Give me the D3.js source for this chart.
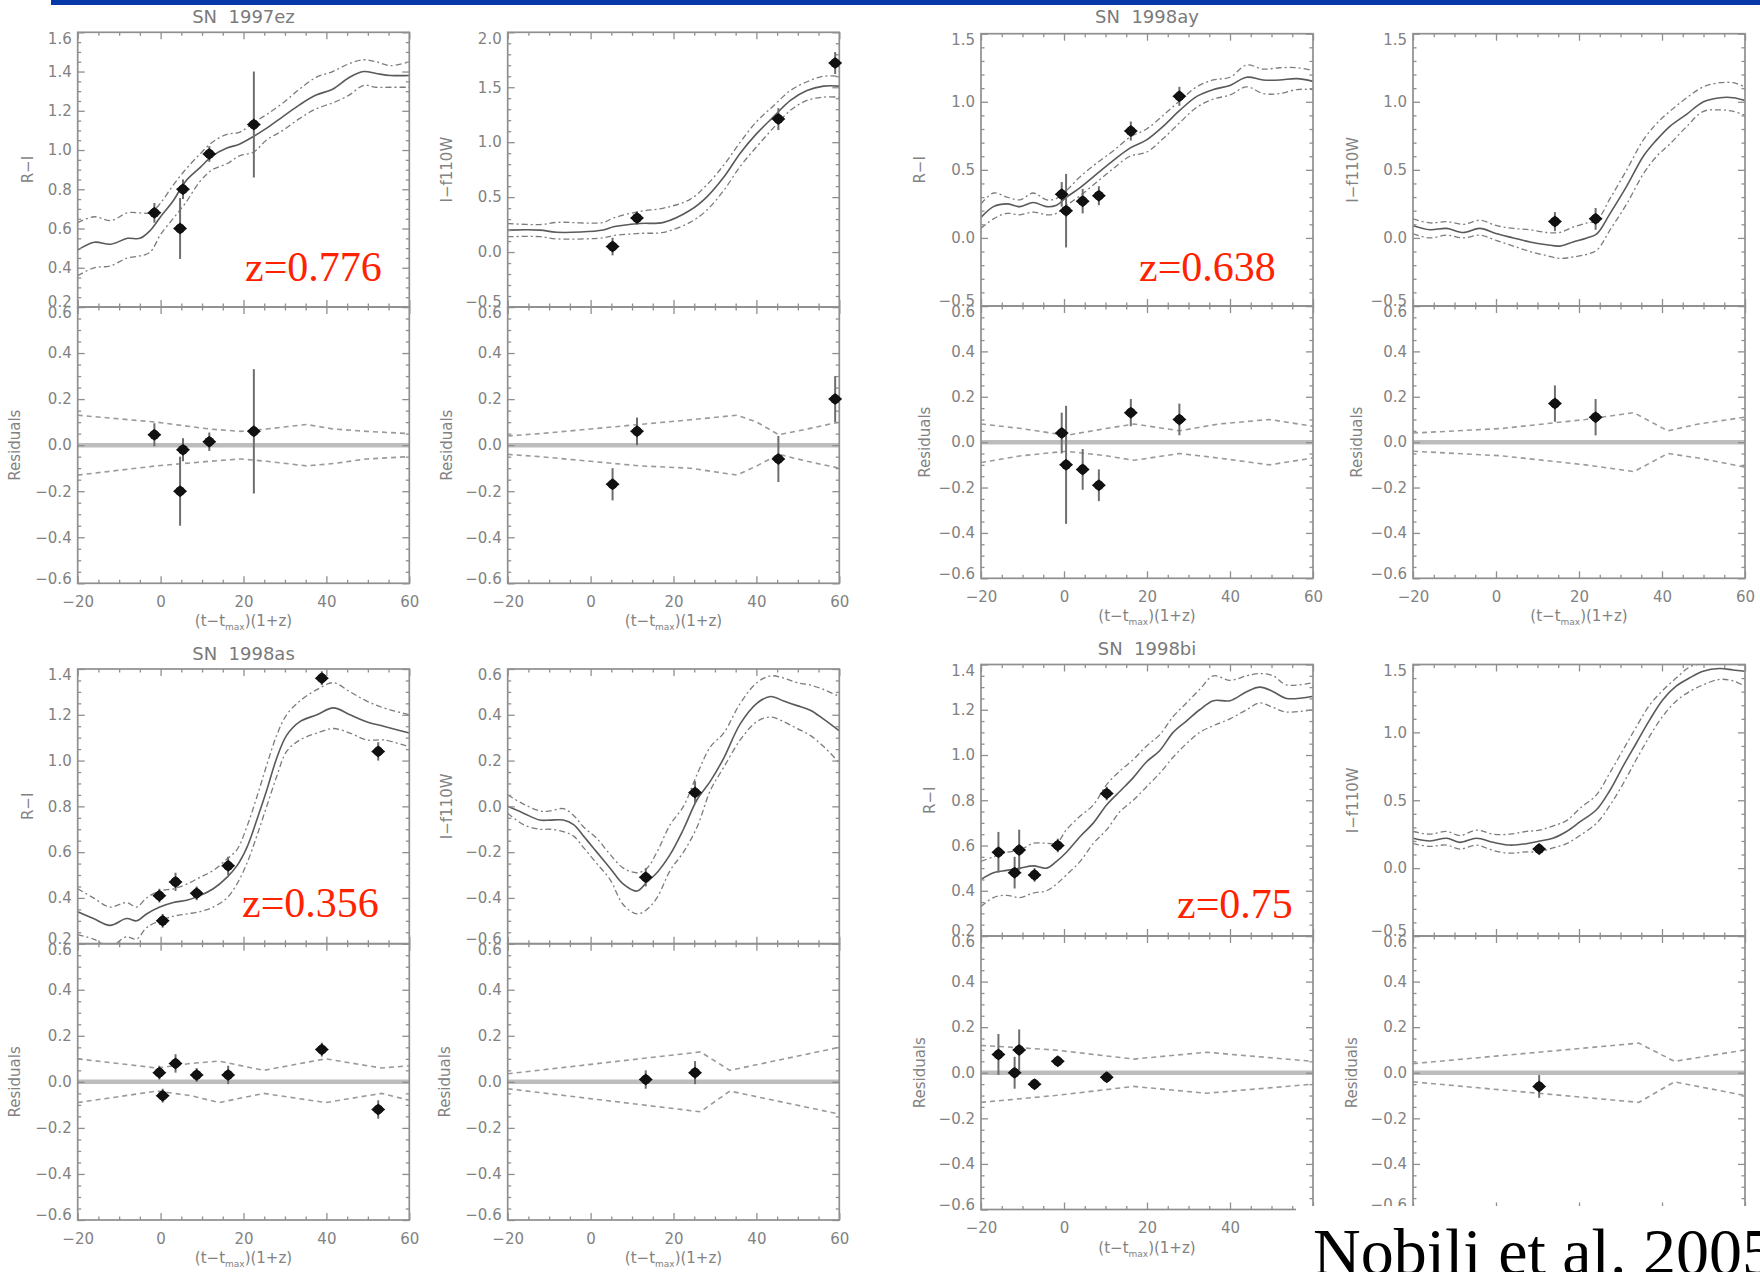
<!DOCTYPE html>
<html>
<head>
<meta charset="utf-8">
<title>SN Ia colour curves and residuals</title>
<script src="https://cdn.jsdelivr.net/npm/d3@7"></script>
<style>
  body { margin: 0; background: #fff; }
  svg { display: block; }
</style>
</head>
<body>
<svg id="fig" width="1760" height="1272"></svg>
<script>
// ---------- shared ticks ----------
const phaseTicks = [-20, 0, 20, 40, 60];
const residualTicks = [-0.6, -0.4, -0.2, 0.0, 0.2, 0.4, 0.6];
const ticksRI_ez = [0.2, 0.4, 0.6, 0.8, 1.0, 1.2, 1.4, 1.6];
const ticksIF_ez = [-0.5, 0.0, 0.5, 1.0, 1.5, 2.0];
const ticksRI_ay = [-0.5, 0.0, 0.5, 1.0, 1.5];
const ticksIF_ay = [-0.5, 0.0, 0.5, 1.0, 1.5];
const ticksRI_as = [0.2, 0.4, 0.6, 0.8, 1.0, 1.2, 1.4];
const ticksIF_as = [-0.6, -0.4, -0.2, 0.0, 0.2, 0.4, 0.6];
const ticksRI_bi = [0.2, 0.4, 0.6, 0.8, 1.0, 1.2, 1.4];
const ticksIF_bi = [-0.5, 0.0, 0.5, 1.0, 1.5];

// ---------- SN 1997ez, R-I ----------
const ezRI_modelX = [-20,-16,-12,-8,-5,-2.5,0,3,6,9.5,12.5,16,19,22.5,25.5,29.5,33.5,37.5,41.5,45.5,49,52,55.5,60];
const ezRI_model  = [0.49,0.53,0.52,0.55,0.55,0.59,0.66,0.74,0.84,0.91,0.97,1.01,1.03,1.07,1.11,1.17,1.23,1.28,1.31,1.37,1.40,1.39,1.38,1.38];
const ezRI_upper  = [0.63,0.66,0.64,0.68,0.68,0.68,0.73,0.82,0.90,0.98,1.04,1.08,1.09,1.14,1.18,1.24,1.31,1.37,1.40,1.44,1.46,1.45,1.43,1.45];
const ezRI_lower  = [0.36,0.40,0.41,0.45,0.46,0.48,0.57,0.65,0.73,0.84,0.90,0.93,0.97,0.99,1.05,1.10,1.16,1.21,1.24,1.28,1.33,1.32,1.32,1.32];
const ezRI_obsX   = [-1.5, 4.7, 5.4, 11.75, 22.5];
const ezRI_obs    = [0.68, 0.60, 0.80, 0.98, 1.13];
const ezRI_obsErr = [0.05, 0.155, 0.05, 0.04, 0.27];
const ezRI_res    = [0.045, -0.20, -0.02, 0.015, 0.06];
const ezRI_resErr = [0.05, 0.15, 0.05, 0.04, 0.27];
const ezRI_bandX  = [-20,-1,11.8,19.2,25.6,35.2,41.7,49.7,60];
const ezRI_bandUp = [0.13,0.10,0.07,0.06,0.07,0.09,0.07,0.06,0.05];
const ezRI_bandLo = [-0.13,-0.09,-0.07,-0.06,-0.07,-0.09,-0.08,-0.06,-0.05];

// ---------- SN 1997ez, I-f110W ----------
const ezIF_modelX = [-20,-12.2,-8.2,3.1,5.5,11.9,17.6,24,28,32.1,36.1,40.1,44.1,48.2,52.2,56.2,60];
const ezIF_model  = [0.20,0.20,0.18,0.20,0.23,0.26,0.27,0.38,0.50,0.68,0.90,1.08,1.23,1.38,1.47,1.51,1.51];
const ezIF_upper  = [0.26,0.25,0.27,0.27,0.31,0.37,0.40,0.48,0.61,0.79,1.00,1.19,1.33,1.47,1.55,1.60,1.60];
const ezIF_lower  = [0.14,0.14,0.12,0.13,0.15,0.17,0.18,0.27,0.38,0.56,0.78,0.96,1.13,1.29,1.38,1.41,1.41];
const ezIF_obsX   = [5.3, 11.2, 45.3, 59.0];
const ezIF_obs    = [0.05, 0.31, 1.21, 1.72];
const ezIF_obsErr = [0.08, 0.06, 0.10, 0.10];
const ezIF_res    = [-0.17, 0.06, -0.06, 0.20];
const ezIF_resErr = [0.07, 0.06, 0.10, 0.10];
const ezIF_bandX  = [-20,-12.2,-0.1,11.9,24,35.3,40.1,45.4,52.2,60];
const ezIF_bandUp = [0.04,0.05,0.07,0.09,0.11,0.13,0.10,0.045,0.07,0.10];
const ezIF_bandLo = [-0.04,-0.05,-0.07,-0.09,-0.10,-0.13,-0.09,-0.04,-0.07,-0.10];

// ---------- SN 1998ay, R-I ----------
const ayRI_modelX = [-20,-17,-13.8,-10.6,-7.4,-4.2,-1.8,0.65,3.9,7.9,11.9,15.9,19.9,23.9,28,32,36,40,44,48,52,56.1,60];
const ayRI_model  = [0.15,0.23,0.25,0.23,0.26,0.23,0.24,0.30,0.37,0.47,0.57,0.66,0.72,0.82,0.94,1.04,1.09,1.12,1.18,1.16,1.16,1.17,1.15];
const ayRI_upper  = [0.25,0.33,0.30,0.28,0.33,0.28,0.29,0.35,0.45,0.55,0.64,0.74,0.80,0.90,1.01,1.11,1.16,1.18,1.27,1.24,1.25,1.25,1.23];
const ayRI_lower  = [0.07,0.14,0.18,0.17,0.19,0.17,0.18,0.24,0.31,0.41,0.51,0.60,0.63,0.73,0.85,0.96,1.02,1.05,1.11,1.06,1.06,1.09,1.09];
const ayRI_obsX   = [-0.55, 0.5, 4.5, 8.4, 16.1, 27.8];
const ayRI_obs    = [0.32, 0.20, 0.27, 0.31, 0.785, 1.04];
const ayRI_obsErr = [0.09, 0.27, 0.09, 0.07, 0.07, 0.07];
const ayRI_res    = [0.04, -0.10, -0.12, -0.19, 0.13, 0.10];
const ayRI_resErr = [0.09, 0.26, 0.09, 0.07, 0.06, 0.07];
const ayRI_bandX  = [-20,-10.3,0.55,10.1,16.9,27.8,37.3,49.5,60];
const ayRI_bandUp = [0.08,0.06,0.03,0.06,0.08,0.05,0.08,0.10,0.07];
const ayRI_bandLo = [-0.09,-0.06,-0.04,-0.06,-0.08,-0.05,-0.07,-0.10,-0.07];

// ---------- SN 1998ay, I-f110W ----------
const ayIF_modelX = [-20,-15.9,-11.9,-7.9,-3.9,0.2,4.2,8.2,12.2,15.4,18.6,21.9,24.3,27.5,31.5,35.5,38.7,41.9,46,50,54,57.2,60];
const ayIF_model  = [0.09,0.06,0.07,0.04,0.07,0.03,0.00,-0.03,-0.05,-0.06,-0.03,0.00,0.03,0.18,0.38,0.60,0.72,0.82,0.91,1.00,1.03,1.03,1.01];
const ayIF_upper  = [0.14,0.11,0.12,0.10,0.13,0.09,0.07,0.06,0.04,0.04,0.08,0.11,0.13,0.29,0.50,0.72,0.84,0.93,1.03,1.11,1.14,1.14,1.11];
const ayIF_lower  = [0.03,0.00,0.02,0.00,0.02,-0.02,-0.06,-0.10,-0.13,-0.15,-0.14,-0.12,-0.09,0.06,0.25,0.47,0.60,0.69,0.82,0.93,0.94,0.93,0.90];
const ayIF_obsX   = [14.2, 24.0];
const ayIF_obs    = [0.12, 0.14];
const ayIF_obsErr = [0.07, 0.08];
const ayIF_res    = [0.17, 0.11];
const ayIF_resErr = [0.08, 0.08];
const ayIF_bandX  = [-20,1.2,21.6,33.2,41.4,48.8,60];
const ayIF_bandUp = [0.04,0.06,0.10,0.13,0.05,0.08,0.11];
const ayIF_bandLo = [-0.04,-0.06,-0.10,-0.13,-0.05,-0.07,-0.11];

// ---------- SN 1998as, R-I ----------
const asRI_modelX = [-20,-16.2,-12.2,-8.2,-5.8,-3.4,-0.2,3.1,6.3,9.5,12.7,16,18.4,20.8,23.2,25.6,28,30.4,33.6,37.7,41.7,45.7,49.7,53.8,60];
const asRI_model  = [0.34,0.31,0.28,0.31,0.30,0.33,0.36,0.38,0.39,0.41,0.44,0.49,0.54,0.62,0.74,0.87,1.01,1.11,1.17,1.20,1.23,1.20,1.17,1.15,1.12];
const asRI_upper  = [0.44,0.40,0.36,0.38,0.36,0.40,0.43,0.44,0.46,0.49,0.52,0.57,0.61,0.71,0.84,0.98,1.11,1.20,1.26,1.31,1.34,1.30,1.26,1.23,1.20];
const asRI_lower  = [0.24,0.22,0.19,0.23,0.22,0.27,0.30,0.32,0.33,0.34,0.36,0.40,0.46,0.55,0.67,0.80,0.93,1.04,1.09,1.12,1.14,1.12,1.09,1.09,1.06];
const asRI_obsX   = [-0.3, 0.5, 3.6, 8.7, 16.3, 38.9, 52.5];
const asRI_obs    = [0.41, 0.30, 0.47, 0.42, 0.54, 1.36, 1.04];
const asRI_obsErr = [0.03, 0.03, 0.04, 0.03, 0.04, 0.03, 0.04];
const asRI_res    = [0.04, -0.06, 0.08, 0.03, 0.03, 0.14, -0.12];
const asRI_resErr = [0.03, 0.03, 0.04, 0.03, 0.04, 0.03, 0.04];
const asRI_bandX  = [-20,-0.8,7.3,14.1,24.9,39.8,53.3,60];
const asRI_bandUp = [0.10,0.06,0.08,0.09,0.05,0.10,0.06,0.07];
const asRI_bandLo = [-0.09,-0.04,-0.06,-0.09,-0.05,-0.09,-0.05,-0.08];

// ---------- SN 1998as, I-f110W ----------
const asIF_modelX = [-20,-16.2,-12.2,-9.8,-6.6,-4.1,-1.7,1.5,4.7,7.9,11.2,13.6,16,19.2,22.4,25.7,28.9,32.1,36.1,40.1,43.4,46.6,49.8,53,56.3,60];
const asIF_model  = [0.00,-0.03,-0.06,-0.06,-0.06,-0.08,-0.13,-0.20,-0.27,-0.34,-0.37,-0.33,-0.29,-0.21,-0.10,0.03,0.11,0.21,0.36,0.45,0.48,0.46,0.44,0.42,0.38,0.33];
const asIF_upper  = [0.05,0.01,-0.02,-0.02,-0.01,-0.04,-0.09,-0.14,-0.21,-0.27,-0.29,-0.27,-0.20,-0.08,0.00,0.14,0.26,0.32,0.45,0.54,0.57,0.56,0.54,0.53,0.51,0.48];
const asIF_lower  = [-0.03,-0.08,-0.10,-0.10,-0.11,-0.13,-0.18,-0.25,-0.32,-0.43,-0.47,-0.45,-0.40,-0.28,-0.20,-0.09,0.07,0.17,0.29,0.37,0.39,0.37,0.34,0.31,0.26,0.19];
const asIF_obsX   = [13.3, 25.2];
const asIF_obs    = [-0.31, 0.06];
const asIF_obsErr = [0.04, 0.05];
const asIF_res    = [0.01, 0.04];
const asIF_resErr = [0.04, 0.05];
const asIF_bandX  = [-20, 26.5, 33.6, 60];
const asIF_bandUp = [0.035, 0.13, 0.05, 0.15];
const asIF_bandLo = [-0.03, -0.13, -0.04, -0.14];

// ---------- SN 1998bi, R-I ----------
const biRI_modelX = [-20,-17,-13.8,-10.6,-7.4,-4.2,-1.8,0.6,3.9,7.1,10.3,13.5,16.7,19.9,23.1,26.3,29.5,32.7,36,40,44,47.2,50.4,53.6,60];
const biRI_model  = [0.45,0.48,0.49,0.50,0.51,0.50,0.53,0.57,0.64,0.70,0.78,0.84,0.90,0.97,1.02,1.10,1.15,1.20,1.24,1.24,1.28,1.30,1.28,1.25,1.26];
const biRI_upper  = [0.53,0.55,0.57,0.58,0.61,0.61,0.61,0.67,0.73,0.78,0.87,0.93,0.98,1.04,1.09,1.17,1.23,1.29,1.35,1.33,1.35,1.36,1.35,1.31,1.32];
const biRI_lower  = [0.33,0.37,0.38,0.37,0.39,0.40,0.43,0.47,0.53,0.61,0.67,0.75,0.80,0.86,0.92,0.99,1.05,1.10,1.13,1.16,1.20,1.23,1.21,1.19,1.20];
const biRI_obsX   = [-15.8, -11.9, -10.8, -7.1, -1.5, 10.3];
const biRI_obs    = [0.57, 0.48, 0.58, 0.47, 0.60, 0.83];
const biRI_obsErr = [0.09, 0.07, 0.09, 0.03, 0.03, 0.03];
const biRI_res    = [0.08, 0.00, 0.10, -0.05, 0.05, -0.02];
const biRI_resErr = [0.09, 0.07, 0.09, 0.02, 0.02, 0.02];
const biRI_bandX  = [-20, -2.2, 16.8, 34.3, 60];
const biRI_bandUp = [0.12, 0.10, 0.06, 0.09, 0.05];
const biRI_bandLo = [-0.13, -0.10, -0.06, -0.09, -0.05];

// ---------- SN 1998bi, I-f110W ----------
const biIF_modelX = [-20,-15.9,-11.9,-8.7,-4.7,-0.7,3.3,7.3,10.5,13.7,17,20.2,24.2,27.4,30.6,33.8,37,40.2,43.4,46.6,49.9,53.9,57.1,60];
const biIF_model  = [0.22,0.20,0.22,0.19,0.22,0.19,0.17,0.18,0.20,0.22,0.27,0.34,0.43,0.57,0.75,0.92,1.09,1.24,1.34,1.40,1.45,1.47,1.46,1.45];
const biIF_upper  = [0.27,0.25,0.27,0.24,0.28,0.25,0.25,0.27,0.28,0.31,0.35,0.44,0.54,0.70,0.87,1.04,1.20,1.31,1.40,1.48,1.51,1.54,1.54,1.52];
const biIF_lower  = [0.18,0.16,0.17,0.14,0.17,0.13,0.11,0.12,0.12,0.15,0.18,0.24,0.33,0.46,0.62,0.80,0.97,1.12,1.23,1.30,1.35,1.39,1.38,1.34];
const biIF_obsX   = [10.4];
const biIF_obs    = [0.14];
const biIF_obsErr = [0.04];
const biIF_res    = [-0.06];
const biIF_resErr = [0.05];
const biIF_bandX  = [-20, 34.4, 43.0, 60];
const biIF_bandUp = [0.04, 0.13, 0.05, 0.10];
const biIF_bandLo = [-0.04, -0.13, -0.04, -0.10];

// ---------- panel table ----------
// xLabels: which phase labels are printed under the residual box (the corner box covers the rest)
const panels = [
  { x0: 77.7, x1: 409.3, top: 32.3, split: 307, bottom: 583.3, yDom: [0.2, 1.6], yTicks: ticksRI_ez, yMinor: 0.05,
    yLab: "R\u2212I", yLabX: 28, resLabX: 15, title: "SN  1997ez", titleY: 23, z: "z=0.776", zX: 245, zY: 281,
    xLabels: phaseTicks, xTitle: true,
    mX: ezRI_modelX, m: ezRI_model, up: ezRI_upper, lo: ezRI_lower, oX: ezRI_obsX, o: ezRI_obs, oE: ezRI_obsErr,
    r: ezRI_res, rE: ezRI_resErr, bX: ezRI_bandX, bU: ezRI_bandUp, bL: ezRI_bandLo },
  { x0: 507.7, x1: 839.3, top: 32.3, split: 307, bottom: 583.3, yDom: [-0.5, 2.0], yTicks: ticksIF_ez, yMinor: 0.1,
    yLab: "I\u2212f110W", yLabX: 447, resLabX: 447, xLabels: phaseTicks, xTitle: true,
    mX: ezIF_modelX, m: ezIF_model, up: ezIF_upper, lo: ezIF_lower, oX: ezIF_obsX, o: ezIF_obs, oE: ezIF_obsErr,
    r: ezIF_res, rE: ezIF_resErr, bX: ezIF_bandX, bU: ezIF_bandUp, bL: ezIF_bandLo },
  { x0: 981, x1: 1313, top: 33.7, split: 306, bottom: 578.3, yDom: [-0.5, 1.5], yTicks: ticksRI_ay, yMinor: 0.1,
    yLab: "R\u2212I", yLabX: 920, resLabX: 925, title: "SN  1998ay", titleY: 23, z: "z=0.638", zX: 1139, zY: 281,
    xLabels: phaseTicks, xTitle: true,
    mX: ayRI_modelX, m: ayRI_model, up: ayRI_upper, lo: ayRI_lower, oX: ayRI_obsX, o: ayRI_obs, oE: ayRI_obsErr,
    r: ayRI_res, rE: ayRI_resErr, bX: ayRI_bandX, bU: ayRI_bandUp, bL: ayRI_bandLo },
  { x0: 1413, x1: 1745, top: 33.7, split: 306, bottom: 578.3, yDom: [-0.5, 1.5], yTicks: ticksIF_ay, yMinor: 0.1,
    yLab: "I\u2212f110W", yLabX: 1353, resLabX: 1357, xLabels: phaseTicks, xTitle: true,
    mX: ayIF_modelX, m: ayIF_model, up: ayIF_upper, lo: ayIF_lower, oX: ayIF_obsX, o: ayIF_obs, oE: ayIF_obsErr,
    r: ayIF_res, rE: ayIF_resErr, bX: ayIF_bandX, bU: ayIF_bandUp, bL: ayIF_bandLo },
  { x0: 77.7, x1: 409.3, top: 669, split: 943.7, bottom: 1220, yDom: [0.2, 1.4], yTicks: ticksRI_as, yMinor: 0.05,
    yLab: "R\u2212I", yLabX: 28, resLabX: 15, title: "SN  1998as", titleY: 660, z: "z=0.356", zX: 242, zY: 917,
    xLabels: phaseTicks, xTitle: true,
    mX: asRI_modelX, m: asRI_model, up: asRI_upper, lo: asRI_lower, oX: asRI_obsX, o: asRI_obs, oE: asRI_obsErr,
    r: asRI_res, rE: asRI_resErr, bX: asRI_bandX, bU: asRI_bandUp, bL: asRI_bandLo },
  { x0: 507.7, x1: 839.3, top: 669, split: 943.7, bottom: 1220, yDom: [-0.6, 0.6], yTicks: ticksIF_as, yMinor: 0.05,
    yLab: "I\u2212f110W", yLabX: 447, resLabX: 445, xLabels: phaseTicks, xTitle: true,
    mX: asIF_modelX, m: asIF_model, up: asIF_upper, lo: asIF_lower, oX: asIF_obsX, o: asIF_obs, oE: asIF_obsErr,
    r: asIF_res, rE: asIF_resErr, bX: asIF_bandX, bU: asIF_bandUp, bL: asIF_bandLo },
  { x0: 981, x1: 1313, top: 664.5, split: 936, bottom: 1209.5, yDom: [0.2, 1.4], yTicks: ticksRI_bi, yMinor: 0.05,
    yLab: "R\u2212I", yLabX: 930, resLabX: 920, title: "SN  1998bi", titleY: 655, z: "z=0.75", zX: 1177, zY: 918,
    xLabels: [-20, 0, 20, 40], xTitle: true,
    mX: biRI_modelX, m: biRI_model, up: biRI_upper, lo: biRI_lower, oX: biRI_obsX, o: biRI_obs, oE: biRI_obsErr,
    r: biRI_res, rE: biRI_resErr, bX: biRI_bandX, bU: biRI_bandUp, bL: biRI_bandLo },
  { x0: 1413, x1: 1745, top: 664.5, split: 936, bottom: 1209.5, yDom: [-0.5, 1.5], yTicks: ticksIF_bi, yMinor: 0.1,
    yLab: "I\u2212f110W", yLabX: 1353, resLabX: 1352, xLabels: [], xTitle: false,
    mX: biIF_modelX, m: biIF_model, up: biIF_upper, lo: biIF_lower, oX: biIF_obsX, o: biIF_obs, oE: biIF_obsErr,
    r: biIF_res, rE: biIF_resErr, bX: biIF_bandX, bU: biIF_bandUp, bL: biIF_bandLo }
];

// ---------- styles ----------
const FONT = "'DejaVu Sans', sans-serif";
const frameColor = "#8f8f8f";
const textColor = "#828282";
const modelColor = "#5a5a5a";
const bandColor = "#7c7c7c";
const resBandColor = "#9a9a9a";
const fmt = d3.format(".1f");

const svg = d3.select("#fig");
svg.append("rect").attr("width", 1760).attr("height", 1272).attr("fill", "#fff");
// blue rule along the top
svg.append("rect").attr("x", 51).attr("y", 0).attr("width", 1709).attr("height", 5).attr("fill", "#0638a8");

const zip = (a, b) => a.map((v, i) => [v, b[i]]);
let clipCount = 0;

function styleAxis(sel) {
  sel.select(".domain").remove();
  sel.attr("font-family", FONT);
  sel.selectAll("line").attr("stroke", frameColor).attr("stroke-width", 1.3);
  sel.selectAll("text").attr("fill", textColor).attr("font-size", 15);
}

function isMajor(v, list) { return list.some(t => Math.abs(t - v) < 1e-6); }

// Box with inward ticks on all four sides; labels on the left (and bottom when asked)
function drawBox(g, x, y, yMajor, yMinorStep, xLabels) {
  const [xa, xb] = x.range();
  const [yb, ya] = y.range();
  const [dLo, dHi] = y.domain();
  const xMinor = d3.range(x.domain()[0], x.domain()[1] + 1e-9, 5).filter(v => !isMajor(v, phaseTicks));
  const yMinor = d3.range(dLo, dHi + 1e-9, yMinorStep).map(v => +v.toFixed(4)).filter(v => !isMajor(v, yMajor));

  g.append("g").attr("transform", `translate(0,${ya})`)
    .call(d3.axisTop(x).tickValues(xMinor).tickSize(-3.5).tickFormat("")).call(styleAxis);
  g.append("g").attr("transform", `translate(0,${ya})`)
    .call(d3.axisTop(x).tickValues(phaseTicks).tickSize(-7).tickFormat("")).call(styleAxis);
  g.append("g").attr("transform", `translate(0,${yb})`)
    .call(d3.axisBottom(x).tickValues(xMinor).tickSize(-3.5).tickFormat("")).call(styleAxis);
  g.append("g").attr("transform", `translate(0,${yb})`)
    .call(d3.axisBottom(x).tickValues(phaseTicks).tickSize(-7).tickFormat("")).call(styleAxis);
  if (xLabels && xLabels.length) {
    g.append("g").attr("transform", `translate(0,${yb})`)
      .call(d3.axisBottom(x).tickValues(xLabels).tickSize(0).tickPadding(13).tickFormat(d3.format("d")))
      .call(styleAxis);
  }

  g.append("g").attr("transform", `translate(${xa},0)`)
    .call(d3.axisLeft(y).tickValues(yMinor).tickSize(-3.5).tickFormat("")).call(styleAxis);
  const left = g.append("g").attr("transform", `translate(${xa},0)`)
    .call(d3.axisLeft(y).tickValues(yMajor).tickSize(-7).tickPadding(6).tickFormat(fmt)).call(styleAxis);
  // end labels are nudged inside the axis range
  left.selectAll(".tick text").attr("y", d => Math.abs(d - dLo) < 1e-6 ? -5 : (Math.abs(d - dHi) < 1e-6 ? 6 : 0));

  g.append("g").attr("transform", `translate(${xb},0)`)
    .call(d3.axisRight(y).tickValues(yMinor).tickSize(-3.5).tickFormat("")).call(styleAxis);
  g.append("g").attr("transform", `translate(${xb},0)`)
    .call(d3.axisRight(y).tickValues(yMajor).tickSize(-7).tickFormat("")).call(styleAxis);

  g.append("rect").attr("x", xa).attr("y", ya).attr("width", xb - xa).attr("height", yb - ya)
    .attr("fill", "none").attr("stroke", frameColor).attr("stroke-width", 1.7);
}

function addClip(x0, y0, x1, y1) {
  const id = "clip" + (clipCount++);
  svg.append("clipPath").attr("id", id).append("rect")
    .attr("x", x0).attr("y", y0).attr("width", x1 - x0).attr("height", y1 - y0);
  return `url(#${id})`;
}

function drawPoints(g, x, y, xs, ys, errs) {
  const pts = xs.map((v, i) => ({ x: v, y: ys[i], e: errs[i] }));
  g.selectAll(null).data(pts).enter().append("line")
    .attr("x1", d => x(d.x)).attr("x2", d => x(d.x))
    .attr("y1", d => y(d.y - d.e)).attr("y2", d => y(d.y + d.e))
    .attr("stroke", "#6e6e6e").attr("stroke-width", 2);
  const mk = g.selectAll(null).data(pts).enter().append("g")
    .attr("transform", d => `translate(${x(d.x)},${y(d.y)})`);
  mk.append("path").attr("d", "M-7,0L0,-6L7,0L0,6Z").attr("fill", "#111");
  mk.append("circle").attr("r", 4.8).attr("fill", "#111");
}

function axisTitle(text, cx, cy, rotate) {
  const t = svg.append("text").attr("font-family", FONT).attr("font-size", 15).attr("fill", textColor)
    .attr("text-anchor", "middle").attr("dominant-baseline", "central")
    .attr("transform", `translate(${cx},${cy})${rotate ? " rotate(-90)" : ""}`);
  t.text(text);
  return t;
}

panels.forEach(p => {
  const x = d3.scaleLinear().domain([-20, 60]).range([p.x0, p.x1]);
  const yTop = d3.scaleLinear().domain(p.yDom).range([p.split, p.top]);
  const yRes = d3.scaleLinear().domain([-0.6, 0.6]).range([p.bottom, p.split]);
  const g = svg.append("g");

  // --- upper panel: colour curve with its error band ---
  const clipTop = addClip(p.x0, p.top, p.x1, p.split);
  const curves = g.append("g").attr("clip-path", clipTop);
  const smooth = d3.line().x(d => x(d[0])).y(d => yTop(d[1])).curve(d3.curveCatmullRom.alpha(0.5));
  curves.append("path").attr("d", smooth(zip(p.mX, p.up))).attr("fill", "none")
    .attr("stroke", bandColor).attr("stroke-width", 1.3).attr("stroke-dasharray", "6,3,2,3");
  curves.append("path").attr("d", smooth(zip(p.mX, p.lo))).attr("fill", "none")
    .attr("stroke", bandColor).attr("stroke-width", 1.3).attr("stroke-dasharray", "6,3,2,3");
  curves.append("path").attr("d", smooth(zip(p.mX, p.m))).attr("fill", "none")
    .attr("stroke", modelColor).attr("stroke-width", 1.6);
  drawBox(g, x, yTop, p.yTicks, p.yMinor, null);
  drawPoints(g, x, yTop, p.oX, p.o, p.oE);

  // --- lower panel: residuals ---
  const clipRes = addClip(p.x0, p.split, p.x1, p.bottom);
  const rg = g.append("g").attr("clip-path", clipRes);
  rg.append("line").attr("x1", p.x0).attr("x2", p.x1).attr("y1", yRes(0)).attr("y2", yRes(0))
    .attr("stroke", "#bdbdbd").attr("stroke-width", 4.5);
  const straight = d3.line().x(d => x(d[0])).y(d => yRes(d[1]));
  rg.append("path").attr("d", straight(zip(p.bX, p.bU))).attr("fill", "none")
    .attr("stroke", resBandColor).attr("stroke-width", 1.6).attr("stroke-dasharray", "5,4");
  rg.append("path").attr("d", straight(zip(p.bX, p.bL))).attr("fill", "none")
    .attr("stroke", resBandColor).attr("stroke-width", 1.6).attr("stroke-dasharray", "5,4");
  drawBox(g, x, yRes, residualTicks, 0.05, p.xLabels);
  drawPoints(g, x, yRes, p.oX, p.r, p.rE);

  // --- titles and labels ---
  const cx = (p.x0 + p.x1) / 2;
  axisTitle(p.yLab, p.yLabX, (p.top + p.split) / 2, true);
  axisTitle("Residuals", p.resLabX, (p.split + p.bottom) / 2, true);
  if (p.xTitle) {
    const xt = svg.append("text").attr("font-family", FONT).attr("font-size", 15).attr("fill", textColor)
      .attr("text-anchor", "middle").attr("x", cx).attr("y", p.bottom + 43);
    xt.append("tspan").text("(t\u2212t");
    xt.append("tspan").attr("font-size", 9).attr("dy", 4).text("max");
    xt.append("tspan").attr("dy", -4).text(")(1+z)");
  }

  if (p.title) {
    svg.append("text").attr("font-family", FONT).attr("font-size", 18).attr("fill", "#7a7a7a")
      .attr("text-anchor", "middle").attr("x", cx).attr("y", p.titleY)
      .style("white-space", "pre").text(p.title);
  }
  if (p.z) {
    svg.append("text").attr("font-family", "'Liberation Serif', 'Times New Roman', serif")
      .attr("font-size", 42).attr("fill", "#ff2200").attr("x", p.zX).attr("y", p.zY).text(p.z);
  }
});

// citation block in the lower right corner
svg.append("rect").attr("x", 1296).attr("y", 1206).attr("width", 464).attr("height", 66).attr("fill", "#fff");
svg.append("text").attr("font-family", "'Liberation Serif', 'Times New Roman', serif")
  .attr("font-size", 66).attr("fill", "#000").attr("x", 1313).attr("y", 1274)
  .text("Nobili et al. 2005");
</script>
</body>
</html>
